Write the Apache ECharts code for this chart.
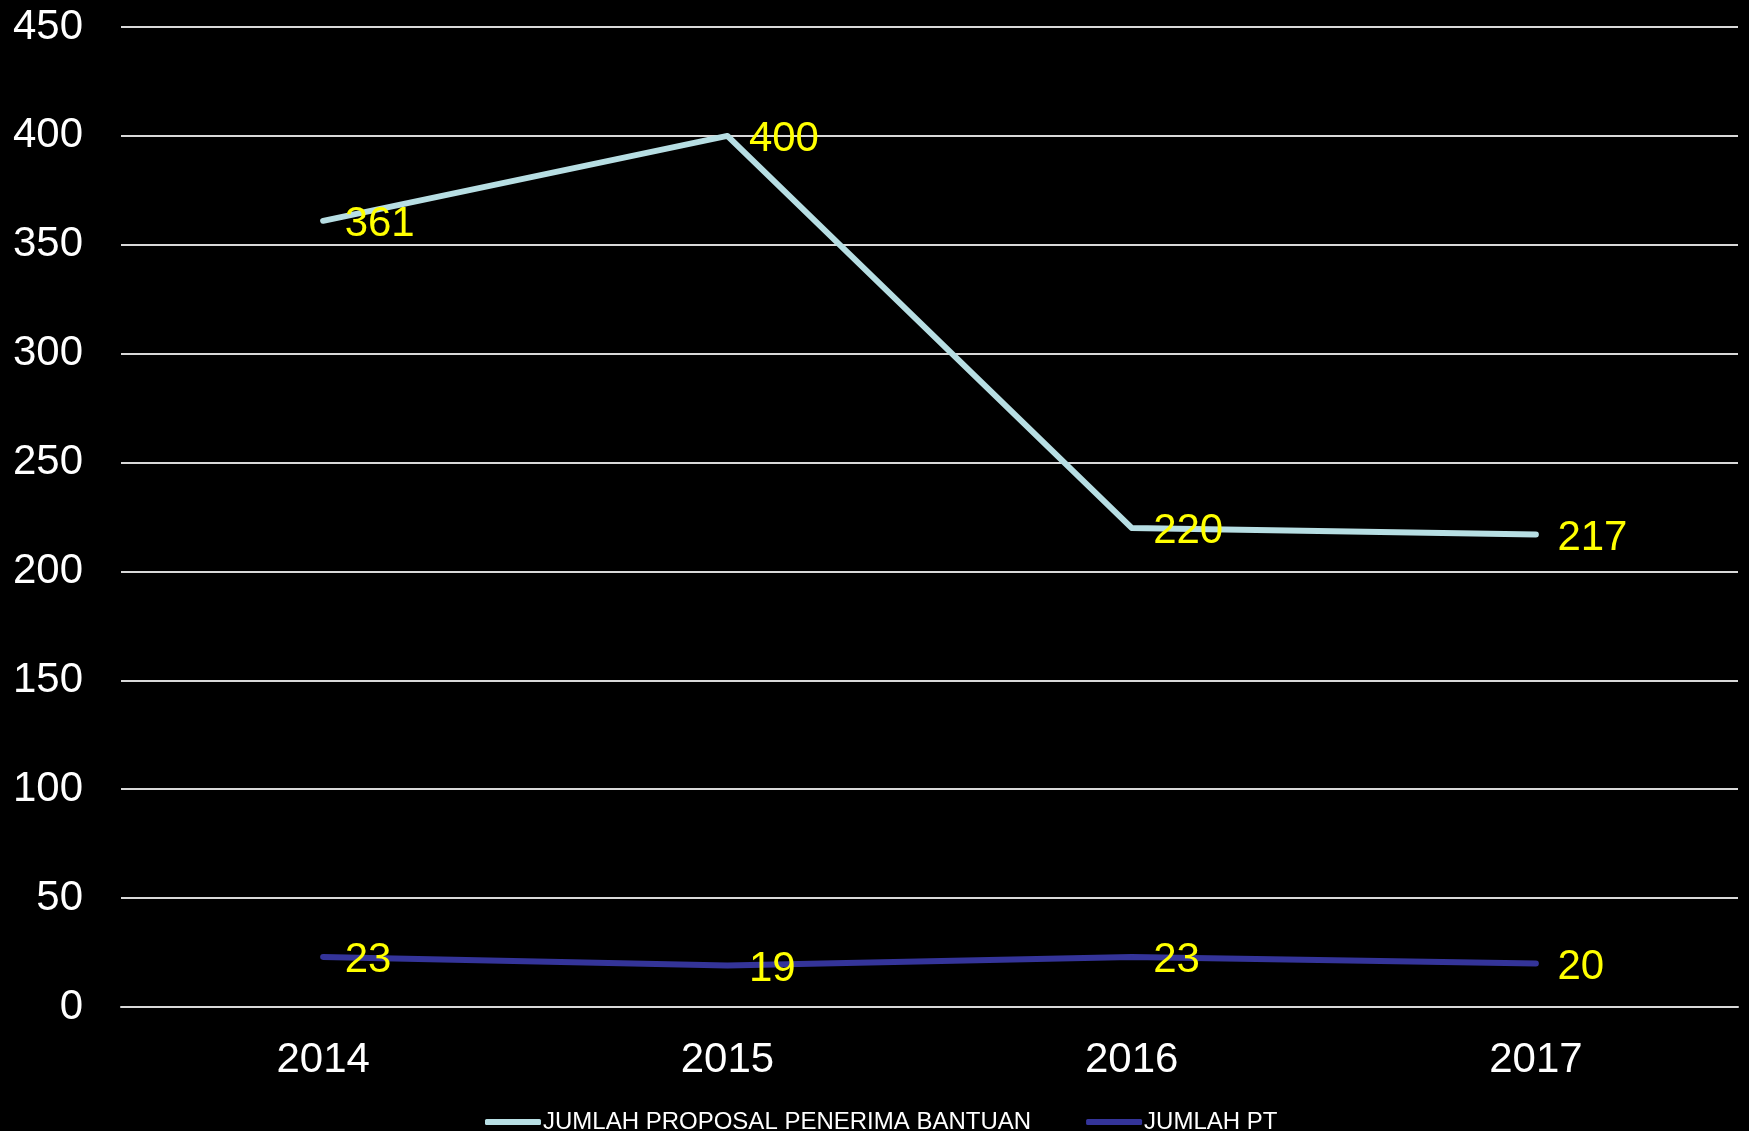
<!DOCTYPE html>
<html>
<head>
<meta charset="utf-8">
<script src="https://cdn.jsdelivr.net/npm/echarts@6/dist/echarts.min.js"></script>
<style>
  html, body { margin: 0; padding: 0; background: #000; }
  #chart { width: 1749px; height: 1131px; }
</style>
</head>
<body>
<div id="chart"></div>
<script>
// data
const years = ['2014', '2015', '2016', '2017'];
const proposalName = 'JUMLAH PROPOSAL PENERIMA BANTUAN';
const proposalValues = [361, 400, 220, 217];
const ptName = 'JUMLAH PT';
const ptValues = [23, 19, 23, 20];

const chart = echarts.init(document.getElementById('chart'));

const font = 'Arial, "Liberation Sans", sans-serif';

function lineSeries(name, data, color) {
    return {
        name: name,
        type: 'line',
        data: data,
        symbol: 'circle',
        symbolSize: 1,
        showSymbol: true,
        itemStyle: { color: color },
        lineStyle: { color: color, width: 6, cap: 'round', join: 'round' },
        label: {
            show: true,
            position: 'right',
            distance: 21,
            offset: [0, 4],
            color: '#FFFF00',
            fontSize: 42,
            fontFamily: font
        },
        emphasis: { disabled: true }
    };
}

const option = {
    backgroundColor: '#000000',
    animation: false,
    grid: { left: 121, right: 11, top: 27, bottom: 124 },
    legend: {
        left: 480,
        top: 1105,
        icon: 'roundRect',
        itemWidth: 56,
        itemHeight: 6,
        itemGap: 55,
        textStyle: {
            color: '#FFFFFF',
            fontSize: 24,
            fontFamily: font,
            padding: [0, 0, 0, -3]
        },
        data: [proposalName, ptName]
    },
    xAxis: {
        type: 'category',
        data: years,
        boundaryGap: true,
        axisLine: { show: true, lineStyle: { color: '#D9D9D9', width: 2 } },
        axisTick: { show: false },
        axisLabel: { color: '#FFFFFF', fontSize: 42, fontFamily: font, margin: 32 }
    },
    yAxis: {
        type: 'value',
        min: 0,
        max: 450,
        interval: 50,
        axisLine: { show: false },
        axisTick: { show: false },
        axisLabel: {
            color: '#FFFFFF',
            fontSize: 42,
            fontFamily: font,
            margin: 38,
            padding: [10, 0, 0, 0]
        },
        splitLine: { lineStyle: { color: '#D9D9D9', width: 2 } }
    },
    series: [
        lineSeries(proposalName, proposalValues, '#B7DEE3'),
        lineSeries(ptName, ptValues, '#343499')
    ]
};

chart.setOption(option);

window.addEventListener('resize', function () {
    chart.resize();
});
</script>
</body>
</html>
